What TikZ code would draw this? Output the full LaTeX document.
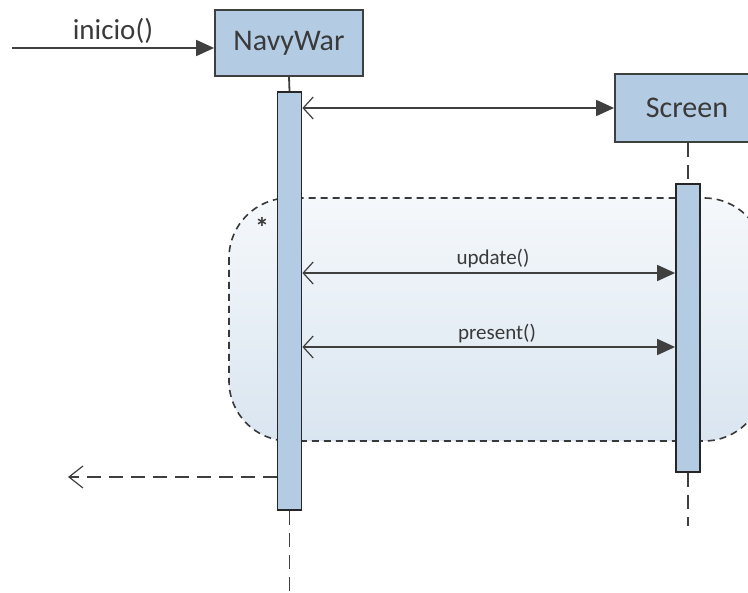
\documentclass[tikz,border=0pt]{standalone}
\usepackage{fontspec}
\setmainfont{Carlito}
\usetikzlibrary{arrows.meta}
\definecolor{boxfill}{HTML}{B3CCE3}
\definecolor{edge}{HTML}{3F3F3F}
\definecolor{txt}{HTML}{3A3A3A}
\definecolor{fragtop}{HTML}{F5F8FB}
\definecolor{fragbot}{HTML}{D9E5F0}
\tikzset{
  lifebox/.style={draw=edge, fill=boxfill, line width=1.8pt, minimum width=148pt, minimum height=66pt, inner sep=0pt, font=\fontsize{30}{34}\selectfont, text=txt},
  actbar/.style={draw=black!85, fill=boxfill, line width=1.8pt, minimum width=24pt, inner sep=0pt},
  lifeline/.style={draw=edge, line width=1.8pt, dash pattern=on 14pt off 8pt},
  msg/.style={draw=edge, line width=1.8pt, {Straight Barb[length=10pt,width=22pt,line width=1.2pt]}-{Triangle[length=18pt,width=16pt]}},
  callmsg/.style={draw=edge, line width=1.8pt, -{Triangle[length=18pt,width=16pt]}},
  retmsg/.style={draw=edge, line width=1.8pt, dash pattern=on 14pt off 8pt, -{Straight Barb[length=14pt,width=22pt,line width=1.2pt]}},
  frag/.style={draw=edge!90!black, line width=1.6pt, dash pattern=on 7pt off 5pt, rounded corners=60pt},
  lbl/.style={text=txt, inner sep=0pt}
}
\begin{document}
\begin{tikzpicture}[x=1pt,y=-1pt]
\useasboundingbox (0,0) rectangle (748,593);
% combined fragment (loop)
\coordinate (fragA) at (229,198);
\coordinate (fragB) at (764,441);
\path[top color=fragtop, bottom color=fragbot, rounded corners=60pt] (fragA) rectangle (fragB);
\draw[frag] (fragA) rectangle (fragB);
\node[lbl, font=\fontsize{28}{30}\selectfont\bfseries] (star) at (262,227) {*};
% lifelines
\node[lifebox] (navy) at (289,43) {NavyWar};
\node[lifebox, minimum width=144pt, minimum height=68pt] (screen) at (687,108) {Screen};
\node[actbar, minimum height=418pt] (bar1) at (289.5,301) {};
\node[actbar, minimum height=288pt] (bar2) at (688,328) {};
\coordinate (end1) at (289.5,593);
\coordinate (end2) at (688,526);
\draw[draw=edge, line width=1.8pt] (navy.south) -- (bar1.north);
\draw[lifeline] (bar1.south) -- (end1);
\draw[lifeline] (screen.south -| bar2.north) -- (bar2.north);
\draw[lifeline] (bar2.south) -- (end2);
% messages
\coordinate (start) at (12,48);
\draw[callmsg] (start) -- (navy.west |- start);
\node[lbl, font=\fontsize{29}{32}\selectfont, anchor=base] (inicio) at (113,40) {inicio()};
\draw[msg] (bar1.east |- screen.west) -- (screen.west);
\coordinate (uy) at (0,273);
\coordinate (py) at (0,347);
\draw[msg] (bar1.east |- uy) -- (bar2.west |- uy);
\node[lbl, font=\fontsize{21}{24}\selectfont, anchor=base] (upd) at (493,265) {update()};
\draw[msg] (bar1.east |- py) -- (bar2.west |- py);
\node[lbl, font=\fontsize{21}{24}\selectfont, anchor=base] (pres) at (497,340) {present()};
\coordinate (ret) at (68,477);
\draw[retmsg] (bar1.west |- ret) -- (ret);
\end{tikzpicture}
\end{document}
